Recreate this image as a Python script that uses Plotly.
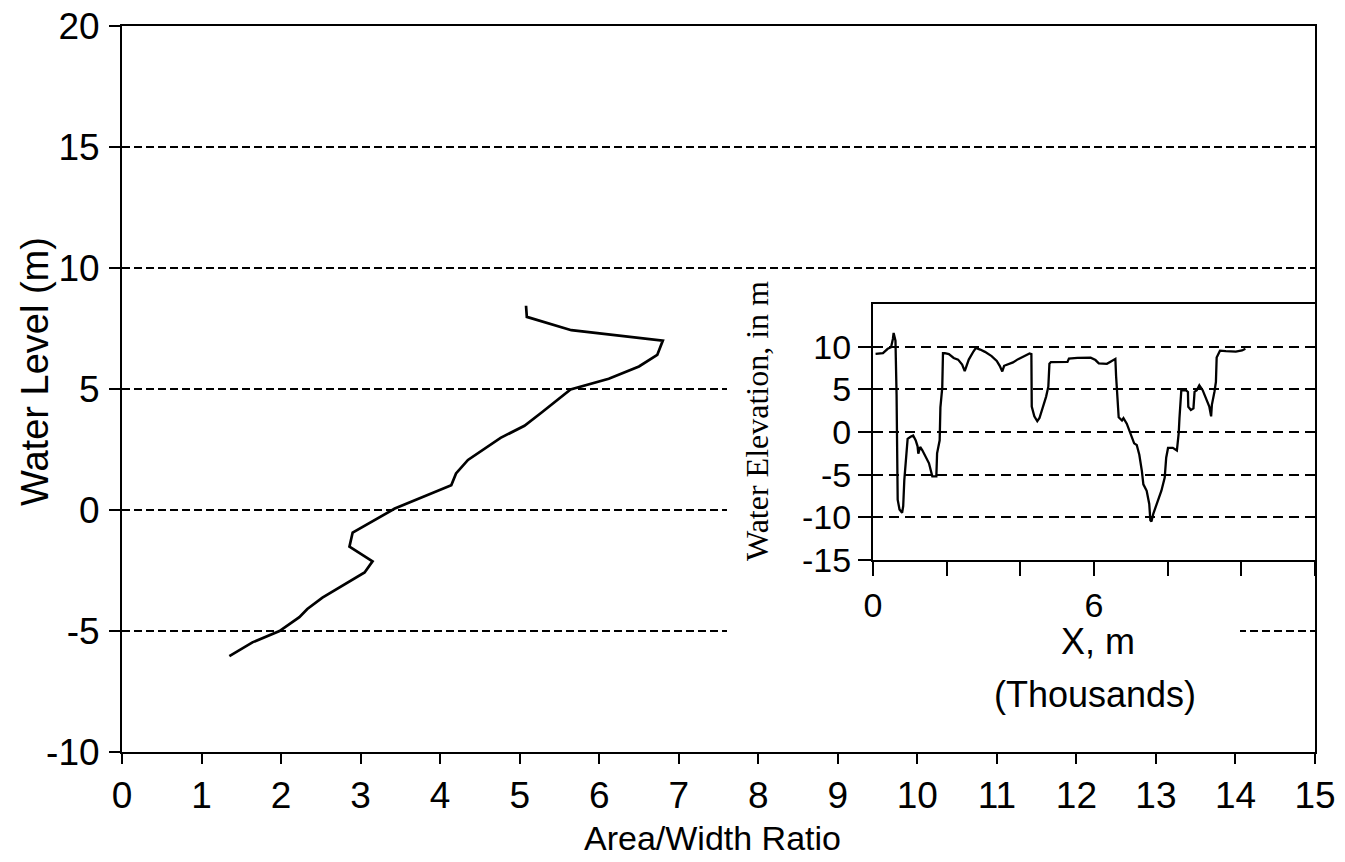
import plotly.graph_objects as go

# ---- main chart data: Area/Width ratio vs water level ----
ratio = [5.08, 5.09, 5.65, 6.80, 6.73, 6.50, 6.12, 5.64, 5.28, 5.06, 4.76, 4.35,
         4.20, 4.14, 3.43, 3.10, 2.90, 2.86, 3.15, 3.05, 2.75, 2.52, 2.33, 2.23,
         1.98, 1.85, 1.64, 1.35]
level = [8.44, 7.98, 7.43, 7.00, 6.41, 5.93, 5.42, 4.98, 4.04, 3.48, 2.98, 2.07,
         1.51, 1.02, 0.06, -0.54, -0.93, -1.51, -2.12, -2.58, -3.17, -3.62, -4.09, -4.43,
         -5.00, -5.19, -5.47, -6.04]

main_x_ticks = list(range(0, 16))
main_y_ticks = [-10, -5, 0, 5, 10, 15, 20]
main_y_labels = ["-10", "-5", "0", "5", "10", "15", "20"]

# ---- inset data: water elevation profile along X (thousands of m) ----
prof_x = [0.07, 0.27, 0.40, 0.49, 0.54, 0.56, 0.61, 0.64, 0.67, 0.72, 0.79, 0.82,
          0.85, 0.89, 0.94, 1.03, 1.09, 1.16, 1.21, 1.23, 1.28, 1.34, 1.43, 1.52,
          1.61, 1.72, 1.74, 1.81, 1.83, 1.88, 1.90, 1.95, 2.06, 2.19, 2.31, 2.42,
          2.49, 2.55, 2.60, 2.73, 2.79, 2.91, 3.04, 3.22, 3.36, 3.44, 3.51, 3.56,
          3.67, 3.80, 3.94, 4.12, 4.25, 4.30, 4.30, 4.31, 4.38, 4.46, 4.52, 4.61,
          4.70, 4.76, 4.79, 4.83, 5.01, 5.28, 5.32, 5.55, 5.91, 6.04, 6.13, 6.35,
          6.46, 6.58, 6.60, 6.64, 6.67, 6.76, 6.80, 6.89, 6.98, 7.09, 7.16, 7.23,
          7.30, 7.34, 7.43, 7.50, 7.53, 7.56, 7.61, 7.70, 7.83, 7.92, 7.96, 8.01,
          8.14, 8.25, 8.30, 8.32, 8.37, 8.50, 8.55, 8.56, 8.63, 8.70, 8.73, 8.79,
          8.86, 8.95, 9.04, 9.13, 9.18, 9.20, 9.27, 9.31, 9.33, 9.42, 9.58, 9.85,
          10.02, 10.11]
prof_y = [9.16, 9.24, 9.75, 9.94, 10.9, 11.6, 10.7, 4.37, -7.93, -9.08, -9.47, -8.7,
          -5.63, -3.32, -0.81, -0.53, -0.42, -0.99, -1.68, -2.53, -1.76, -2.14, -2.9, -3.67,
          -5.2, -5.2, -2.5, -0.97, 2.88, 5.19, 9.23, 9.23, 9.12, 8.67, 8.48, 7.9,
          7.14, 7.91, 8.49, 9.46, 9.84, 9.66, 9.39, 8.9, 8.33, 7.75, 7.1, 7.76,
          7.96, 8.15, 8.54, 8.93, 9.21, 9.13, 4.9, 2.98, 1.83, 1.26, 1.64, 2.8,
          4.15, 5.31, 8.0, 8.2, 8.2, 8.21, 8.6, 8.68, 8.7, 8.43, 8.05, 7.99,
          8.26, 8.57, 6.53, 3.85, 1.73, 1.35, 1.62, 0.97, 0.01, -1.33, -1.52, -2.67,
          -4.59, -6.13, -6.89, -8.43, -10.35, -10.5, -9.58, -8.42, -6.88, -5.33, -3.02, -1.87,
          -1.86, -2.17, -0.12, 1.6, 4.88, 4.88, 4.69, 2.96, 2.58, 2.77, 4.7, 4.89,
          5.47, 4.9, 3.94, 2.98, 1.83, 3.18, 4.72, 5.88, 8.72, 9.53, 9.47, 9.43,
          9.56, 9.75]

inset_x_ticks = [0, 2, 4, 6, 8, 10, 12]
inset_x_labels = ["0", "", "", "6", "", "", ""]
inset_y_ticks = [-15, -10, -5, 0, 5, 10]
inset_y_labels = ["-15", "-10", "-5", "0", "5", "10"]

# the page body has an 8px margin; work in screen pixels and shift
OFF = 8
W, H = 1345 - OFF, 862 - OFF
L, R, T, B = 122, 1315, 26, 752   # main plot area in screen pixels


def fx(px):
    return (px - L) / (R - L)


def fy(py):
    return (B - py) / (B - T)


sans = "Liberation Sans, Arial, Helvetica, sans-serif"
serif = "Liberation Serif, Times New Roman, serif"

fig = go.Figure()

fig.add_trace(go.Scatter(x=ratio, y=level, mode="lines",
                         line=dict(color="black", width=2.7),
                         xaxis="x", yaxis="y", showlegend=False, hoverinfo="skip"))
# empty trace to create the covering (white) subplot
fig.add_trace(go.Scatter(x=[None], y=[None], mode="lines", xaxis="x2", yaxis="y2",
                         showlegend=False, hoverinfo="skip"))
fig.add_trace(go.Scatter(x=prof_x, y=prof_y, mode="lines",
                         line=dict(color="black", width=2.3),
                         xaxis="x3", yaxis="y3", showlegend=False, hoverinfo="skip"))

fig.update_layout(
    width=W, height=H,
    margin=dict(l=L - OFF, r=(W + OFF) - R, t=T - OFF, b=(H + OFF) - B),
    paper_bgcolor="white", plot_bgcolor="white",
    font=dict(family=sans, color="black", size=34),
    xaxis=dict(domain=[0, 1], range=[0, 15], tickvals=main_x_ticks,
               showline=True, linecolor="black", linewidth=2, mirror=True,
               ticks="outside", ticklen=10, tickwidth=1.5, tickcolor="black",
               showgrid=False, zeroline=False, tickfont=dict(size=37),
               ticklabelstandoff=0, automargin=False),
    yaxis=dict(domain=[0, 1], range=[-10, 20], tickvals=main_y_ticks,
               ticktext=main_y_labels,
               showline=True, linecolor="black", linewidth=2, mirror=True,
               ticks="outside", ticklen=11, tickwidth=1.5, tickcolor="black",
               showgrid=True, gridcolor="black", gridwidth=1.7, griddash="8px,4px",
               zeroline=False, tickfont=dict(size=37), ticklabelstandoff=2,
               automargin=False, ticklabeloverflow="allow"),
    xaxis2=dict(domain=[fx(727), fx(1240)], range=[0, 1], visible=False,
                anchor="y2", fixedrange=True, automargin=False),
    yaxis2=dict(domain=[fy(705), fy(288)], range=[0, 1], visible=False,
                anchor="x2", fixedrange=True, automargin=False),
    xaxis3=dict(domain=[fx(873), fx(1315)], range=[0, 12], anchor="y3",
                tickvals=inset_x_ticks, ticktext=inset_x_labels,
                showline=True, linecolor="black", linewidth=2, mirror=True,
                ticks="outside", ticklen=14, tickwidth=2, tickcolor="black",
                showgrid=False, zeroline=False, tickfont=dict(size=34),
                ticklabelstandoff=0, automargin=False),
    yaxis3=dict(domain=[fy(560), fy(304)], range=[-15, 15], anchor="x3",
                tickvals=inset_y_ticks, ticktext=inset_y_labels,
                showline=True, linecolor="black", linewidth=2, mirror=True,
                ticks="outside", ticklen=13, tickwidth=2, tickcolor="black",
                showgrid=True, gridcolor="black", gridwidth=2.2, griddash="10px,6px",
                zeroline=False, tickfont=dict(size=34), ticklabelstandoff=0,
                automargin=False),
    shapes=[
        dict(type="rect", xref="x2", yref="y2", x0=0, x1=1, y0=0, y1=1,
             fillcolor="white", line=dict(width=0), layer="below"),
        dict(type="rect", xref="x3", yref="y3", x0=0, x1=12, y0=-15, y1=15,
             fillcolor="white", line=dict(width=0), layer="below"),
    ],
    annotations=[
        dict(text="Water Level (m)", xref="paper", yref="paper", x=fx(35), y=fy(372),
             textangle=-90, showarrow=False, xanchor="center", yanchor="middle",
             font=dict(size=38, family=sans)),
        dict(text="Area/Width Ratio", xref="paper", yref="paper", x=fx(712), y=fy(838),
             showarrow=False, xanchor="center", yanchor="middle",
             font=dict(size=34, family=sans)),
        dict(text="Water Elevation, in m", xref="paper", yref="paper", x=fx(757), y=fy(421),
             textangle=-90, showarrow=False, xanchor="center", yanchor="middle",
             font=dict(size=32, family=serif)),
        dict(text="X, m", xref="paper", yref="paper", x=fx(1098), y=fy(641),
             showarrow=False, xanchor="center", yanchor="middle",
             font=dict(size=36, family=sans)),
        dict(text="(Thousands)", xref="paper", yref="paper", x=fx(1095), y=fy(694),
             showarrow=False, xanchor="center", yanchor="middle",
             font=dict(size=36, family=sans)),
    ],
)

fig.write_html("out.html")
